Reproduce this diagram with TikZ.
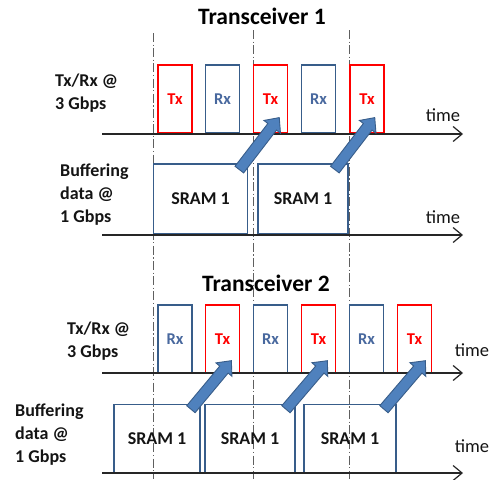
\documentclass[tikz,border=0pt]{standalone}
\usepackage{fontspec}
\setmainfont{Carlito}
\usepackage{xcolor}
\usetikzlibrary{arrows.meta,shapes.arrows,calc}

\definecolor{txred}{RGB}{255,0,0}
\definecolor{boxblue}{RGB}{56,93,138}
\definecolor{rxtext}{RGB}{72,104,158}
\definecolor{arrowfill}{RGB}{79,129,189}
\definecolor{guidegray}{RGB}{95,95,95}
\definecolor{textdark}{RGB}{20,20,20}

\tikzset{
  slot/.style={draw, line width=1.9pt, minimum width=34pt, minimum height=68pt,
    inner sep=0pt, font=\fontsize{16.5}{18}\selectfont\bfseries},
  txslot/.style={slot, draw=txred, text=txred},
  rxslot/.style={slot, draw=boxblue, text=rxtext},
  sram/.style={draw=boxblue, line width=1.9pt, minimum height=70pt, inner sep=0pt,
    text=textdark, font=\fontsize{18}{20}\selectfont\bfseries},
  timeaxis/.style={line width=1.2pt, black!85, -{Straight Barb[length=9pt,width=15pt]}},
  guide/.style={guidegray, line width=0.9pt, dash pattern=on 9pt off 2.5pt on 1.2pt off 2.5pt},
  rate/.style={align=left, anchor=west, inner sep=0pt, text=textdark,
    font=\fontsize{18}{23}\selectfont\bfseries},
  timelabel/.style={inner sep=0pt, text=textdark, font=\fontsize{18.5}{20}\selectfont},
  heading/.style={inner sep=0pt, text=black, font=\fontsize{23.5}{25}\selectfont\bfseries},
  blockarrow/.style={single arrow, draw=boxblue, fill=arrowfill, line width=0.9pt,
    inner sep=5pt, minimum width=20pt, single arrow head extend=5pt,
    single arrow head indent=0pt, single arrow tip angle=84}
}

% block arrow from #1 to #2
\newcommand\feed[2]{%
  \path let \p1=($(#2)-(#1)$), \n1={atan2(\y1,\x1)}, \n2={veclen(\x1,\y1)} in
    ($(#1)!0.5!(#2)$) node[blockarrow, minimum height=\n2, rotate=\n1] {};}

\begin{document}
\begin{tikzpicture}[x=1pt,y=-1pt]
            \useasboundingbox (0,0) rectangle (492,479);

            % frame guides
            \draw[guide] (153,33) -- (153,479);
            \draw[guide] (253,30) -- (253,479);
            \draw[guide] (349,30) -- (349,479);

            % Transceiver 1
            \node[heading] (head1) at (262,16) {Transceiver 1};
            \node[rate] (rate1) at (55,93.5) {Tx/Rx @\\3 Gbps};
            \node[rate] (buf1) at (60,195) {Buffering\\data @\\1 Gbps};

            \node[txslot] (ta1) at (175,99) {Tx};
            \node[rxslot] (ta2) at (222.5,99) {Rx};
            \node[txslot] (ta3) at (270.5,99) {Tx};
            \node[rxslot] (ta4) at (318.5,99) {Rx};
            \node[txslot] (ta5) at (367,99) {Tx};

            \node[sram, minimum width=94pt] (sa1) at (200.5,199) {SRAM 1};
            \node[sram, minimum width=90pt] (sa2) at (303,199) {SRAM 1};

            \coordinate (axa) at (102,134);
            \coordinate (axaend) at (463,134);
            \coordinate (axb) at (102,235);
            \coordinate (axbend) at (463,235);
            \draw[timeaxis] (axa) -- (axaend);
            \draw[timeaxis] (axb) -- (axbend);
            \node[timelabel] (timea) at (443,115) {time};
            \node[timelabel] (timeb) at (443,217) {time};

            \coordinate (fa1) at ($(sa1.north east)+(-11,9)$);
            \coordinate (ha1) at ($(ta3.south east)+(-11,-14)$);
            \coordinate (fa2) at ($(sa2.north east)+(-16,9)$);
            \coordinate (ha2) at ($(ta5.south east)+(-12,-14)$);
            \feed{fa1}{ha1}
            \feed{fa2}{ha2}

            % Transceiver 2
            \node[heading] (head2) at (266,283) {Transceiver 2};
            \node[rate] (rate2) at (67,341.5) {Tx/Rx @\\3 Gbps};
            \node[rate] (buf2) at (15,435) {Buffering\\data @\\1 Gbps};

            \node[rxslot] (tb1) at (175,339) {Rx};
            \node[txslot] (tb2) at (222.5,339) {Tx};
            \node[rxslot] (tb3) at (270.5,339) {Rx};
            \node[txslot] (tb4) at (318.5,339) {Tx};
            \node[rxslot] (tb5) at (366.5,339) {Rx};
            \node[txslot] (tb6) at (414.5,339) {Tx};

            \node[sram, minimum width=86pt, minimum height=68pt] (sb1) at (157,438.5) {SRAM 1};
            \node[sram, minimum width=90pt, minimum height=68pt] (sb2) at (250,438.5) {SRAM 1};
            \node[sram, minimum width=92pt, minimum height=68pt] (sb3) at (350,438.5) {SRAM 1};

            \coordinate (axc) at (102,373);
            \coordinate (axcend) at (463,373);
            \coordinate (axd) at (102,473);
            \coordinate (axdend) at (463,473);
            \draw[timeaxis] (axc) -- (axcend);
            \draw[timeaxis] (axd) -- (axdend);
            \node[timelabel] (timec) at (472,350) {time};
            \node[timelabel] (timed) at (472,446) {time};

            \coordinate (fb1) at ($(sb1.north east)+(-12,8)$);
            \coordinate (hb1) at ($(tb2.south east)+(-11,-11)$);
            \coordinate (fb2) at ($(sb2.north east)+(-12,8)$);
            \coordinate (hb2) at ($(tb4.south east)+(-11,-11)$);
            \coordinate (fb3) at ($(sb3.north east)+(-15,8)$);
            \coordinate (hb3) at ($(tb6.south east)+(-9,-11)$);
            \feed{fb1}{hb1}
            \feed{fb2}{hb2}
            \feed{fb3}{hb3}
\end{tikzpicture}
\end{document}
